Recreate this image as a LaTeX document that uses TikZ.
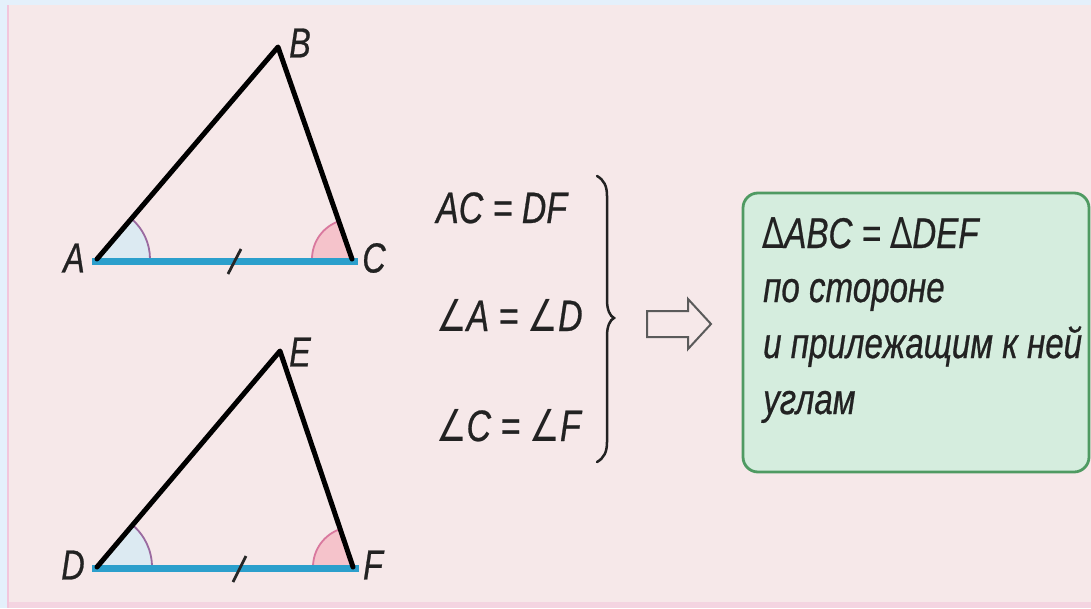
\documentclass[tikz,border=0pt]{standalone}
\usepackage{fontspec}
\setmainfont{Liberation Sans}[FakeStretch=0.77,FakeBold=0.6]
\newfontfamily\dvs{DejaVu Sans}[FakeStretch=0.77]
\definecolor{bgpink}{HTML}{F6E8E9}
\definecolor{bgblue}{HTML}{E4F0FB}
\definecolor{edgepink}{HTML}{F2C6DC}
\definecolor{basecol}{HTML}{2B9FCC}
\definecolor{arcA}{HTML}{9A6AA0}
\definecolor{fillA}{HTML}{DCEAF2}
\definecolor{arcC}{HTML}{D9789E}
\definecolor{fillC}{HTML}{F5C3CB}
\definecolor{boxfill}{HTML}{D5EDDE}
\definecolor{boxline}{HTML}{4F9A62}
\definecolor{arrowgray}{HTML}{5A5A5A}
\definecolor{textcol}{HTML}{222222}
\newcommand{\ang}{{\upshape\dvs\char"2220}}
\begin{document}
\begin{tikzpicture}[x=1pt,y=-1pt,
  side/.style={line width=5pt,line cap=round,line join=round},
  basestyle/.style={line width=7pt,basecol},
  tickmark/.style={line width=2.8pt,black!85},
  arcastyle/.style={arcA,line width=1.8pt},
  arccstyle/.style={arcC,line width=1.8pt},
  vlabel/.style={font=\fontsize{42}{42}\selectfont\itshape,inner sep=0pt,text=textcol},
  eqtext/.style={font=\fontsize{44}{44}\selectfont\itshape,inner sep=0pt,anchor=base west,text=textcol},
  boxtext/.style={font=\fontsize{43}{43}\selectfont\itshape,inner sep=0pt,anchor=base west,text=textcol},
  resbox/.style={draw=boxline,line width=2.8pt,fill=boxfill,rounded corners=15pt},
  hollow/.style={draw=arrowgray,line width=2pt,fill=bgpink,line join=miter}
]
\useasboundingbox (0,0) rectangle (1091,608);
% background
\fill[bgpink] (0,0) rectangle (1091,608);
\fill[bgblue] (0,0) rectangle (1091,5);
\fill[bgblue] (0,0) rectangle (7,608);
\fill[edgepink] (7,5) rectangle (9,608);
\fill[edgepink!60!bgpink] (9,602) rectangle (1091,608);

% ---------- triangle ABC ----------
\coordinate (A) at (97,259);
\coordinate (B) at (278,47);
\coordinate (C) at (352,259);
\coordinate (A0) at (92,261);
\coordinate (C0) at (358,261);
\fill[fillA] (A) -- ++(53,0) arc[start angle=0,end angle=-49.4,radius=53] -- cycle;
\fill[fillC] (C) -- ++(-40,0) arc[start angle=-180,end angle=-109.3,radius=40] -- cycle;
\draw[arcastyle] (A) ++(53,0) arc[start angle=0,end angle=-49.4,radius=53];
\draw[arccstyle] (C) ++(-40,0) arc[start angle=-180,end angle=-109.3,radius=40];
\draw[basestyle] (A0) -- (C0);
\coordinate (t1a) at (228,274);
\coordinate (t1b) at (241,249);
\draw[tickmark] (t1a) -- (t1b);
\draw[side] (A) -- (B) -- (C);
\node[vlabel] (lA) at (74,258) {A};
\node[vlabel] (lB) at (300,43) {B};
\node[vlabel] (lC) at (374,258) {C};

% ---------- triangle DEF ----------
\coordinate (D) at (97,567);
\coordinate (E) at (280,351);
\coordinate (F) at (353,567);
\coordinate (D0) at (92,568);
\coordinate (F0) at (359,568);
\fill[fillA] (D) -- ++(55,0) arc[start angle=0,end angle=-49.7,radius=55] -- cycle;
\fill[fillC] (F) -- ++(-40,0) arc[start angle=-180,end angle=-108.7,radius=40] -- cycle;
\draw[arcastyle] (D) ++(55,0) arc[start angle=0,end angle=-49.7,radius=55];
\draw[arccstyle] (F) ++(-40,0) arc[start angle=-180,end angle=-108.7,radius=40];
\draw[basestyle] (D0) -- (F0);
\coordinate (t2a) at (233,582);
\coordinate (t2b) at (246,556);
\draw[tickmark] (t2a) -- (t2b);
\draw[side] (D) -- (E) -- (F);
\node[vlabel] (lD) at (73,565) {D};
\node[vlabel] (lE) at (300,352) {E};
\node[vlabel] (lF) at (373,565) {F};

% ---------- conditions ----------
\node[eqtext] (c1) at (436,223) {AC = DF};
\node[eqtext] (c2) at (436,331) {\ang A = \ang D};
\node[eqtext] (c3) at (436,441) {\ang C = \ang F};

% brace
\coordinate (br1) at (597,176);
\coordinate (br2) at (614,318);
\coordinate (br3) at (597,462);
\draw[line width=2.5pt,line cap=round,textcol] (br1)
  .. controls (604,180) and (607,186) .. (607,196)
  -- (607,300)
  .. controls (607,310) and (610,316) .. (br2)
  .. controls (610,320) and (607,326) .. (607,336)
  -- (607,442)
  .. controls (607,452) and (604,458) .. (br3);

% hollow arrow
\draw[hollow] (647,311) -- (688,311) -- (688,299) -- (711,324) -- (688,349) -- (688,337) -- (647,337) -- cycle;

% ---------- result box ----------
\draw[resbox] (743,193) rectangle (1089,472);
\node[boxtext] (r1) at (762,248) {{\upshape\dvs\char"2206}ABC = {\upshape\dvs\char"2206}DEF};
\node[boxtext] (r2) at (763,302) {по стороне};
\node[boxtext] (r3) at (763,358) {и прилежащим к ней};
\node[boxtext] (r4) at (763,414) {углам};
\end{tikzpicture}
\end{document}
